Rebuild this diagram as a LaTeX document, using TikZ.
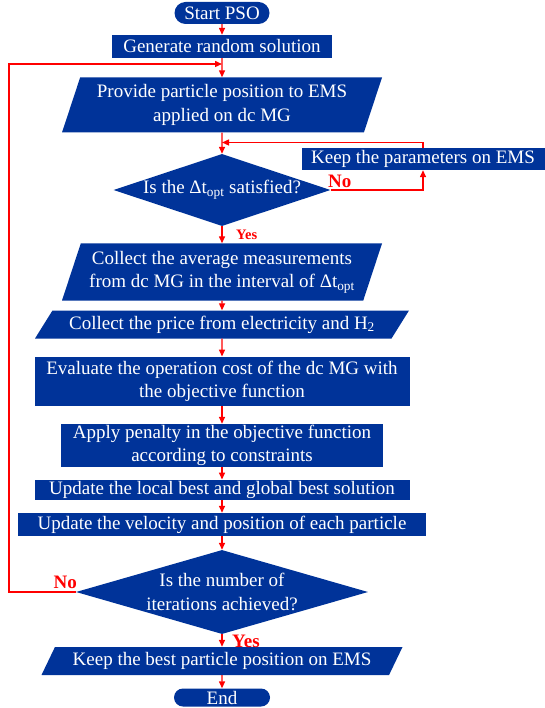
\documentclass[tikz,border=0pt]{standalone}
\usepackage{fontspec}
\setmainfont{Liberation Serif}
\usetikzlibrary{arrows.meta, shapes.geometric, shapes.misc}
\definecolor{psoBlue}{HTML}{003399}
\definecolor{flowRed}{HTML}{FF0000}

\begin{document}
\begin{tikzpicture}[x=1pt, y=-1pt,
    every node/.style={font=\fontsize{19}{23.5}\selectfont, text=white, inner sep=0pt, align=center},
    box/.style={rectangle, fill=psoBlue},
    pill/.style={rounded rectangle, fill=psoBlue},
    slant/.style 2 args={trapezium, fill=psoBlue, trapezium left angle=#1,
      trapezium right angle=#2, trapezium stretches body},
    ask/.style={diamond, fill=psoBlue},
    flow/.style={flowRed, line width=1.4pt, -{Triangle[length=7pt,width=6pt]}},
    tag/.style={text=flowRed, font=\fontsize{19}{19}\selectfont\bfseries}]
  \useasboundingbox (0,0) rectangle (545,708);
  % blocks, top to bottom
  \node[pill, minimum width=95, minimum height=22] (start) at (222,13) {Start PSO};
  \node[box, minimum width=220, minimum height=23] (gen) at (222,46.5) {Generate random solution};
  \node[slant={66}{114}, minimum width=320, minimum height=55] (give) at (222,105)
    {Provide particle position to EMS\\applied on dc MG};
  \node[ask, shape aspect=3, minimum width=217, minimum height=72] (ok1) at (222,190)
    {Is the Δt\textsubscript{opt} satisfied?};
  \node[box, minimum width=243, minimum height=22] (keep) at (423,159) {Keep the parameters on EMS};
  \node[slant={66}{114}, minimum width=320, minimum height=57] (avg) at (222,272)
    {Collect the average measurements\\from dc MG in the interval of Δt\textsubscript{opt}};
  \node[slant={45}{135}, minimum width=374, minimum height=28] (price) at (222,324.5)
    {Collect the price from electricity and H\textsubscript{2}};
  \node[box, minimum width=375, minimum height=49.5] (cost) at (222,381.5)
    {Evaluate the operation cost of the dc MG with\\the objective function};
  \node[box, minimum width=322, minimum height=43] (pen) at (222,445.5)
    {Apply penalty in the objective function\\according to constraints};
  \node[box, minimum width=375, minimum height=20.5] (best) at (222,490)
    {Update the local best and global best solution};
  \node[box, minimum width=408, minimum height=23] (vel) at (222,524.5)
    {Update the velocity and position of each particle};
  \node[ask, shape aspect=3.5, minimum width=292, minimum height=84] (ok2) at (222,592)
    {Is the number of\\iterations achieved?};
  \node[slant={52}{128}, minimum width=361, minimum height=28] (save) at (222,661)
    {Keep the best particle position on EMS};
  \node[pill, minimum width=96, minimum height=18] (stop) at (222,697.5) {End};
  % connectors
  \coordinate (loopTop) at (9,64);
  \coordinate (backTop) at (423,142.5);
  \draw[flow] (start) -- (gen);
  \draw[flow] (gen) -- (give);
  \draw[flow] (give) -- (ok1);
  \draw[flow] (ok1.east) -| (keep.south);
  \draw[flow] (keep.north) -- (backTop) -- (give.south |- backTop);
  \draw[flow] (ok1) -- (avg);
  \foreach \a/\b in {avg/price, price/cost, cost/pen, pen/best, best/vel, vel/ok2, ok2/save, save/stop}
    \draw[flow] (\a) -- (\b);
  \draw[flow] (ok2.west) -| (loopTop) -- (gen.south |- loopTop);
  % decisions
  \node[tag, anchor=south west] (no1) at (328,188) {No};
  \node[tag, font=\fontsize{14.5}{14.5}\selectfont\bfseries, anchor=west] (yes1) at (236,235) {Yes};
  \node[tag, anchor=south east] (no2) at (77,589) {No};
  \node[tag, anchor=west] (yes2) at (232,641) {Yes};
\end{tikzpicture}
\end{document}
